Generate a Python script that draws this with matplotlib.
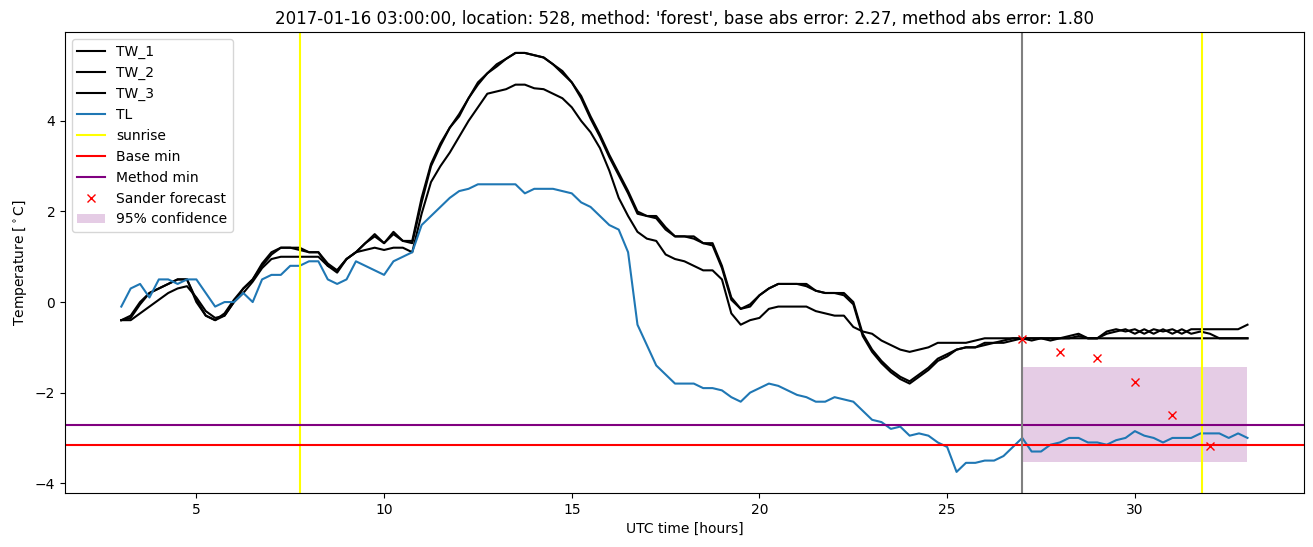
import numpy as np
import matplotlib
matplotlib.use("Agg")
import matplotlib.pyplot as plt

# time grid start/step (hours UTC)
t_start = 3.0
t_step = 0.25

tw_1 = [-0.4, -0.3, 0.0, 0.2, 0.3, 0.4, 0.5, 0.5, 0.0, -0.3, -0.4, -0.25,
        0.05, 0.3, 0.5, 0.85, 1.1, 1.2, 1.2, 1.15, 1.1, 1.1, 0.85, 0.7,
        0.95, 1.1, 1.3, 1.5, 1.3, 1.55, 1.35, 1.35, 2.3, 3.05, 3.5, 3.85,
        4.15, 4.5, 4.85, 5.05, 5.25, 5.37, 5.5, 5.5, 5.45, 5.4, 5.25, 5.05,
        4.85, 4.5, 4.05, 3.65, 3.2, 2.8, 2.4, 1.95, 1.9, 1.9, 1.65, 1.45,
        1.45, 1.45, 1.3, 1.3, 0.8, 0.1, -0.15, -0.1, 0.15, 0.3, 0.4, 0.4,
        0.4, 0.4, 0.25, 0.2, 0.2, 0.2, 0.0, -0.7, -1.05, -1.3, -1.5, -1.65,
        -1.75, -1.6, -1.45, -1.25, -1.15, -1.05, -1.0, -1.0, -0.9, -0.9, -0.85, -0.8,
        -0.8, -0.8, -0.8, -0.85, -0.8, -0.75, -0.7, -0.8, -0.8, -0.65, -0.6, -0.65,
        -0.6, -0.7, -0.6, -0.65, -0.6, -0.7, -0.6, -0.6, -0.6, -0.6, -0.6, -0.6,
        -0.5]

tw_2 = [-0.4, -0.35, -0.05, 0.2, 0.3, 0.4, 0.5, 0.5, 0.05, -0.3, -0.4, -0.3,
        0.0, 0.3, 0.5, 0.8, 1.05, 1.2, 1.2, 1.2, 1.1, 1.1, 0.8, 0.7,
        0.95, 1.1, 1.3, 1.45, 1.3, 1.5, 1.35, 1.3, 2.2, 3.0, 3.45, 3.85,
        4.1, 4.5, 4.8, 5.05, 5.2, 5.37, 5.5, 5.5, 5.45, 5.4, 5.25, 5.1,
        4.85, 4.55, 4.1, 3.7, 3.25, 2.85, 2.45, 2.0, 1.9, 1.85, 1.6, 1.45,
        1.45, 1.4, 1.3, 1.25, 0.75, 0.05, -0.15, -0.05, 0.15, 0.3, 0.4, 0.4,
        0.4, 0.35, 0.25, 0.2, 0.2, 0.15, -0.05, -0.75, -1.1, -1.35, -1.55, -1.7,
        -1.8, -1.65, -1.5, -1.3, -1.2, -1.05, -1.0, -1.0, -0.95, -0.9, -0.9, -0.85,
        -0.8, -0.85, -0.8, -0.8, -0.8, -0.8, -0.75, -0.8, -0.8, -0.7, -0.65, -0.6,
        -0.7, -0.6, -0.7, -0.6, -0.7, -0.6, -0.7, -0.65, -0.7, -0.8, -0.8, -0.8,
        -0.8]

tw_3 = [-0.4, -0.4, -0.25, -0.1, 0.05, 0.2, 0.3, 0.35, 0.1, -0.2, -0.35, -0.3,
        0.0, 0.2, 0.45, 0.75, 0.95, 1.0, 1.0, 1.0, 1.0, 1.0, 0.8, 0.65,
        0.95, 1.1, 1.15, 1.2, 1.15, 1.2, 1.2, 1.1, 1.95, 2.65, 3.0, 3.3,
        3.65, 4.0, 4.3, 4.6, 4.65, 4.7, 4.8, 4.8, 4.72, 4.7, 4.6, 4.5,
        4.3, 4.0, 3.75, 3.4, 2.9, 2.3, 1.9, 1.55, 1.4, 1.35, 1.05, 0.95,
        0.9, 0.8, 0.7, 0.7, 0.5, -0.25, -0.5, -0.4, -0.35, -0.15, -0.1, -0.1,
        -0.1, -0.1, -0.2, -0.25, -0.3, -0.3, -0.55, -0.65, -0.7, -0.85, -0.95, -1.05,
        -1.1, -1.05, -1.0, -0.9, -0.9, -0.9, -0.9, -0.85, -0.8, -0.8, -0.8, -0.8,
        -0.8, -0.8, -0.8, -0.8, -0.8, -0.8, -0.8, -0.8, -0.8, -0.8, -0.8, -0.8,
        -0.8, -0.8, -0.8, -0.8, -0.8, -0.8, -0.8, -0.8, -0.8, -0.8, -0.8, -0.8,
        -0.8]

tl = [-0.1, 0.3, 0.4, 0.1, 0.5, 0.5, 0.4, 0.5, 0.5, 0.2, -0.1, 0.0,
      0.0, 0.2, 0.0, 0.5, 0.6, 0.6, 0.8, 0.8, 0.9, 0.9, 0.5, 0.4,
      0.5, 0.9, 0.8, 0.7, 0.6, 0.9, 1.0, 1.1, 1.7, 1.9, 2.1, 2.3,
      2.45, 2.5, 2.6, 2.6, 2.6, 2.6, 2.6, 2.4, 2.5, 2.5, 2.5, 2.45,
      2.4, 2.2, 2.1, 1.9, 1.7, 1.6, 1.1, -0.5, -0.95, -1.4, -1.6, -1.8,
      -1.8, -1.8, -1.9, -1.9, -1.95, -2.1, -2.2, -2.0, -1.9, -1.8, -1.85, -1.95,
      -2.05, -2.1, -2.2, -2.2, -2.1, -2.15, -2.2, -2.4, -2.6, -2.65, -2.8, -2.75,
      -2.95, -2.9, -2.95, -3.1, -3.2, -3.75, -3.55, -3.55, -3.5, -3.5, -3.4, -3.2,
      -3.0, -3.3, -3.3, -3.15, -3.1, -3.0, -3.0, -3.1, -3.1, -3.15, -3.05, -3.0,
      -2.85, -2.95, -3.0, -3.1, -3.0, -3.0, -3.0, -2.9, -2.9, -2.9, -3.0, -2.9,
      -3.0]

sunrise_hours = [7.75, 31.78]
base_min = -3.16
method_min = -2.71
forecast_start = 27.0
forecast_hours = [27, 28, 29, 30, 31, 32]
sander_forecast = [-0.81, -1.11, -1.24, -1.76, -2.49, -3.18]
conf_hours = [27.0, 33.0]
conf_low = -3.53
conf_high = -1.44

title = ("2017-01-16 03:00:00, location: 528, method: 'forest', "
         "base abs error: 2.27, method abs error: 1.80")

t = t_start + t_step * np.arange(len(tl))

fig, ax = plt.subplots(figsize=(13.13, 5.47), dpi=100)
ax.plot(t, tw_1, color="black", label="TW_1")
ax.plot(t, tw_2, color="black", label="TW_2")
ax.plot(t, tw_3, color="black", label="TW_3")
ax.plot(t, tl, color="tab:blue", label="TL")
for i, s in enumerate(sunrise_hours):
    ax.axvline(s, color="yellow", label="sunrise" if i == 0 else None)
ax.axhline(base_min, color="red", label="Base min")
ax.axhline(method_min, color="purple", label="Method min")
ax.axvline(forecast_start, color="gray")
ax.plot(forecast_hours, sander_forecast, "x", color="red", label="Sander forecast")
ax.fill_between(conf_hours, [conf_low] * 2, [conf_high] * 2, color="purple",
                alpha=0.2, linewidth=0, label="95% confidence")
ax.set_title(title)
ax.set_xlabel("UTC time [hours]")
ax.set_ylabel(r"Temperature [$^\circ$C]")
ax.legend(loc="upper left")
fig.subplots_adjust(left=0.0495, right=0.993, top=0.9415, bottom=0.099)
fig.savefig("out.png", dpi=100)
